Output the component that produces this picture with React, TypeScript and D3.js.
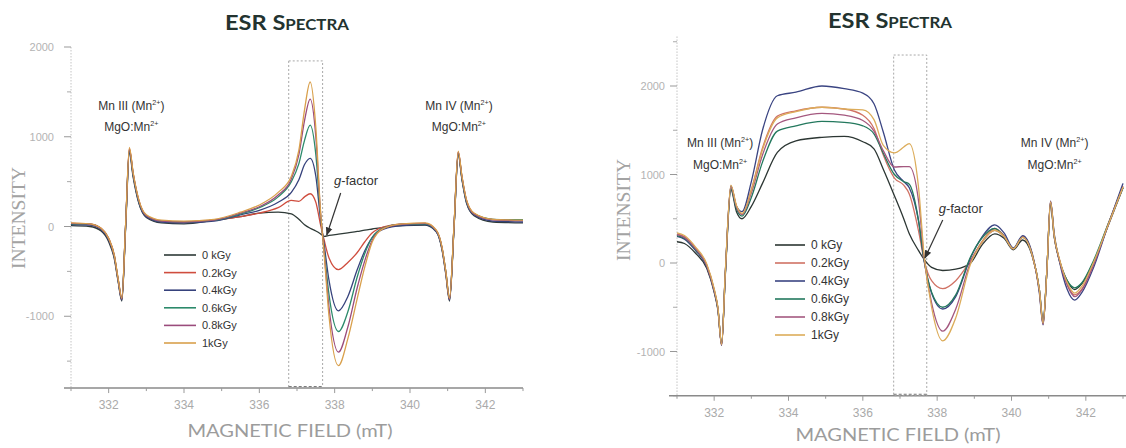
import React from "react";
import * as d3 from "d3";

// ---- shared labels ----
const doses = ["0 kGy", "0.2kGy", "0.4kGy", "0.6kGy", "0.8kGy", "1kGy"];
const xTicks = [331, 332, 333, 334, 335, 336, 337, 338, 339, 340, 341, 342, 343];

// ---- left panel (magnetic field in mT, intensity) ----
const fieldL = [331.0, 331.5, 331.8, 332.0, 332.15, 332.25, 332.35, 332.45, 332.55, 332.65, 332.8, 333.0, 333.4, 334.0, 334.8,
  335.5, 336.0, 336.5, 336.85, 337.05, 337.2, 337.35, 337.5, 337.62, 337.72, 337.85, 338.1, 338.35, 338.6, 338.8,
  339.0, 339.3, 339.8, 340.4, 340.7, 340.85, 340.95, 341.05, 341.17, 341.28, 341.38, 341.5, 341.7, 342.2, 343.0];

const left0 = [10, 0, -50, -170, -360, -610, -830, -20, 820, 550, 260, 100, 40, 30, 70,
  110, 150, 160, 140, 80, 20, -20, -50, -80, -110, -100, -85, -70, -55, -40,
  -28, -10, 10, 15, -60, -260, -530, -830, -10, 800, 520, 260, 120, 50, 40];
const left02 = [35, 30, -20, -130, -320, -580, -790, 20, 870, 590, 290, 120, 60, 50, 70,
  110, 150, 210, 290, 280, 330, 365, 270, 30, -150, -350, -480, -400, -290, -170,
  -70, -5, 30, 35, -45, -235, -500, -800, 20, 830, 550, 290, 145, 80, 70];
const left04 = [20, 15, -35, -150, -340, -600, -820, 0, 840, 570, 270, 110, 50, 40, 60,
  130, 180, 270, 380, 520, 690, 760, 560, 100, -200, -600, -940, -780, -480, -270,
  -120, -30, 10, 20, -60, -250, -520, -820, 0, 810, 530, 270, 130, 60, 50];
const left06 = [30, 25, -25, -140, -330, -590, -800, 10, 850, 580, 280, 120, 60, 50, 70,
  140, 210, 330, 500, 700, 960, 1130, 800, 150, -250, -760, -1170, -950, -560, -300,
  -120, -15, 25, 30, -50, -240, -500, -800, 10, 820, 540, 280, 140, 80, 75];
const left08 = [35, 25, -25, -140, -330, -590, -810, 10, 860, 590, 290, 120, 60, 50, 70,
  150, 220, 350, 530, 800, 1180, 1420, 1000, 180, -280, -900, -1400, -1120, -680, -380,
  -150, -20, 25, 35, -50, -240, -510, -810, 10, 830, 550, 290, 140, 75, 65];
const left1 = [40, 30, -20, -130, -320, -580, -800, 20, 880, 600, 300, 130, 70, 60, 80,
  160, 240, 380, 560, 850, 1300, 1610, 1100, 200, -300, -1000, -1550, -1250, -800, -450,
  -170, -20, 30, 40, -40, -230, -500, -800, 20, 840, 560, 300, 150, 80, 70];

const colorsL = ["#2e3a37", "#cf4d3e", "#36427c", "#2c8a6b", "#9a4c7c", "#d9a04c"];
const yTicksL = [-1000, 0, 1000, 2000];
const yMinorL = [-1500, -500, 500, 1500];

// ---- right panel ----
const fieldR = [331.0, 331.2, 331.5, 331.8, 332.0, 332.1, 332.2, 332.3, 332.45, 332.6, 332.75, 333.0, 333.3, 333.7, 334.2,
  334.9, 335.5, 336.0, 336.3, 336.55, 336.85, 337.1, 337.25, 337.5, 337.65, 337.85, 338.15, 338.5, 338.9, 339.2,
  339.55, 339.8, 340.05, 340.3, 340.55, 340.75, 340.85, 340.95, 341.05, 341.15, 341.3, 341.5, 341.7, 341.9, 342.2,
  342.6, 343.0];

const right0 = [240, 220, 110, -60, -330, -530, -920, -140, 830, 580, 500, 640, 900, 1250, 1380,
  1420, 1430, 1370, 1290, 1060, 760, 500, 330, 140, 40, -50, -85, -70, 0, 200,
  330, 280, 150, 260, 90, -300, -650, -100, 660, 290, 20, -200, -300, -230, 0,
  420, 850];
const right02 = [330, 300, 170, -20, -300, -510, -930, -110, 870, 640, 550, 830, 1300, 1660, 1720,
  1760, 1740, 1670, 1520, 1220, 960, 880, 780, 360, 30, -200, -290, -200, 30, 240,
  390, 310, 160, 300, 110, -320, -690, -100, 700, 310, 20, -240, -360, -290, -20,
  440, 870];
const right04 = [300, 270, 140, -40, -320, -520, -930, -120, 870, 640, 580, 920, 1500, 1890, 1930,
  2000, 1970, 1920, 1800, 1480, 1050, 920, 850, 470, 20, -340, -520, -380, 60, 290,
  430, 340, 170, 310, 120, -340, -700, -100, 700, 330, 0, -300, -420, -330, -60,
  430, 900];
const right06 = [310, 280, 150, -30, -310, -510, -910, -120, 840, 610, 530, 740, 1140, 1490, 1550,
  1600, 1590, 1550, 1460, 1240, 1000, 920, 890, 480, 30, -330, -500, -360, 70, 280,
  390, 300, 160, 290, 100, -300, -670, -100, 680, 300, 10, -200, -280, -220, 20,
  440, 850];
const right08 = [320, 290, 160, -30, -310, -510, -920, -110, 860, 630, 550, 790, 1220, 1570, 1640,
  1690, 1670, 1610, 1490, 1270, 1085, 1090, 1090, 700, 50, -450, -770, -520, 10, 230,
  370, 300, 160, 290, 100, -310, -690, -100, 690, 300, 10, -250, -380, -300, -30,
  430, 860];
const right1 = [340, 310, 180, -10, -290, -500, -920, -100, 880, 650, 560, 820, 1280, 1640, 1710,
  1760, 1740, 1730, 1620, 1330, 1245, 1310, 1350, 850, 80, -500, -880, -620, -10, 230,
  370, 300, 160, 290, 100, -300, -680, -100, 690, 310, 30, -220, -340, -260, 0,
  430, 860];

const colorsR = ["#2c3633", "#d07264", "#3a4482", "#23785d", "#a4587f", "#dcac5a"];
const yTicksR = [-1000, 0, 1000, 2000];
const yMinorR = [-1500, -500, 500, 1500, 2500];

type Panel = {
  field: number[];
  series: number[][];
  colors: string[];
  xRange: [number, number];
  yDomain: [number, number];
  yRange: [number, number];
  yTop: number;
  yBottom: number;
  yTicks: number[];
  yMinor: number[];
  labelGap: number;
  axisStart: number;
  axisEnd: number;
  titleX: number;
  titleY: number;
  xTitleX: number;
  xTitleY: number;
  yTitleX: number;
  yTitleY: number;
  box: [number, number, number];
  mn3: [number, number, number];
  mn4: [number, number, number];
  annoSize: number;
  g: { tip: [number, number]; from: [number, number]; text: [number, number] };
  legend: { x0: number; x1: number; y0: number; dy: number; size: number };
};

const panels: Panel[] = [
  {
    field: fieldL,
    series: [left0, left02, left04, left06, left08, left1],
    colors: colorsL,
    xRange: [71, 523],
    yDomain: [0, 2000],
    yRange: [226.5, 47],
    yTop: 2000,
    yBottom: -1800,
    yTicks: yTicksL,
    yMinor: yMinorL,
    labelGap: 17,
    axisStart: 64,
    axisEnd: 523,
    titleX: 287,
    titleY: 30,
    xTitleX: 290,
    xTitleY: 437,
    yTitleX: 25,
    yTitleY: 218,
    box: [336.78, 337.68, 1845],
    mn3: [332.6, 1298, 1064],
    mn4: [341.3, 1298, 1064],
    annoSize: 12,
    g: { tip: [337.79, -95], from: [338.16, 373], text: [337.98, 463] },
    legend: { x0: 164, x1: 196, y0: 255, dy: 17.6, size: 11 },
  },
  {
    field: fieldR,
    series: [right0, right02, right04, right06, right08, right1],
    colors: colorsR,
    xRange: [677, 1123],
    yDomain: [0, 2000],
    yRange: [263, 86],
    yTop: 2560,
    yBottom: -1500,
    yTicks: yTicksR,
    yMinor: yMinorR,
    labelGap: 12,
    axisStart: 669,
    axisEnd: 1126,
    titleX: 890,
    titleY: 28,
    xTitleX: 898,
    xTitleY: 441,
    yTitleX: 630,
    yTitleY: 210,
    box: [336.83, 337.72, 2350],
    mn3: [332.16, 1310, 1062],
    mn4: [341.16, 1310, 1062],
    annoSize: 12,
    g: { tip: [337.67, 56], from: [338.15, 486], text: [338.04, 565] },
    legend: { x0: 775, x1: 805, y0: 245, dy: 18, size: 12 },
  },
];

const tickFont = "'Liberation Sans', Arial, sans-serif";

function Mn({ x, y, label, size }: { x: number; y: number; label: string; size: number }) {
  return (
    <text x={x} y={y} textAnchor="middle" fontFamily={tickFont} fontSize={size} fill="#333">
      {label}
      <tspan fontSize={size * 0.6} dy={-size * 0.4}>2+</tspan>
      <tspan dy={size * 0.4}>{label.startsWith("Mn") ? ")" : ""}</tspan>
    </text>
  );
}

function ChartPanel({ p, idx }: { p: Panel; idx: number }) {
  const x = d3.scaleLinear().domain([331, 343]).range(p.xRange);
  const y = d3.scaleLinear().domain(p.yDomain).range(p.yRange);
  const line = d3
    .line<number>()
    .x((_, i) => x(p.field[i]))
    .y((d) => y(d))
    .curve(d3.curveMonotoneX);
  const ax = x(331);
  const axisY = y(p.yBottom);
  const markerId = `arrow${idx}`;
  return (
    <g>
      <defs>
        <marker id={markerId} viewBox="0 0 10 10" refX="9" refY="5" markerWidth="7" markerHeight="7" orient="auto">
          <path d="M0,1 L10,5 L0,9 z" fill="#333" />
        </marker>
      </defs>
      {/* title */}
      <text x={p.titleX} y={p.titleY} textAnchor="middle" fontFamily="Lato, 'Open Sans', sans-serif" fontWeight="bold"
        fontSize={21} fill="#23332f" style={{ fontVariant: "small-caps" }} textLength={124} lengthAdjust="spacingAndGlyphs">
        ESR Spectra
      </text>
      {/* y axis */}
      <line x1={ax} x2={ax} y1={y(p.yTop)} y2={axisY} stroke="#c4c4c4" strokeDasharray="1.5,1.5" />
      {p.yTicks.map((t) => (
        <g key={t}>
          <line x1={ax - 7} x2={ax} y1={y(t)} y2={y(t)} stroke="#999" />
          <text x={ax - p.labelGap} y={y(t) + 4} textAnchor="end" fontFamily={tickFont} fontSize={11} fill="#b3b3b3">
            {t}
          </text>
        </g>
      ))}
      {p.yMinor.map((t) => (
        <line key={t} x1={ax - 4} x2={ax} y1={y(t)} y2={y(t)} stroke="#aaa" />
      ))}
      {/* x axis */}
      <line x1={p.axisStart} x2={p.axisEnd} y1={axisY} y2={axisY} stroke="#8a8a8a" strokeWidth={1.5} />
      {xTicks.map((t) => (
        <g key={t}>
          <line x1={x(t)} x2={x(t)} y1={axisY} y2={axisY + (t % 2 === 0 ? 5 : 3)} stroke="#999" />
          {t % 2 === 0 && (
            <text x={x(t)} y={axisY + 21} textAnchor="middle" fontFamily={tickFont} fontSize={12} fill="#aaa">
              {t}
            </text>
          )}
        </g>
      ))}
      <text x={p.xTitleX} y={p.xTitleY} textAnchor="middle" fontFamily="Lato, sans-serif" fontSize={17} fill="#9c9c9c"
        textLength={205} lengthAdjust="spacingAndGlyphs">
        MAGNETIC FIELD (mT)
      </text>
      <text transform={`translate(${p.yTitleX},${p.yTitleY}) rotate(-90)`} textAnchor="middle"
        fontFamily="'Liberation Serif', serif" fontSize={18} fill="#a3a3a3" textLength={102} lengthAdjust="spacingAndGlyphs">
        INTENSITY
      </text>
      {/* dotted box */}
      <rect x={x(p.box[0])} y={y(p.box[2])} width={x(p.box[1]) - x(p.box[0])} height={axisY - y(p.box[2])}
        fill="none" stroke="#a8a8a8" strokeDasharray="2,2" />
      <line x1={x(p.box[0])} x2={x(p.box[1])} y1={axisY - 1.5} y2={axisY - 1.5} stroke="#777" strokeDasharray="3,2" />
      {/* spectra */}
      {p.series.map((s, i) => (
        <path key={i} d={line(s) || ""} fill="none" stroke={p.colors[i]} strokeWidth={1.3} />
      ))}
      {/* annotations */}
      <Mn x={x(p.mn3[0])} y={y(p.mn3[1])} label="Mn III (Mn" size={p.annoSize} />
      <Mn x={x(p.mn3[0])} y={y(p.mn3[2])} label="MgO:Mn" size={p.annoSize} />
      <Mn x={x(p.mn4[0])} y={y(p.mn4[1])} label="Mn IV (Mn" size={p.annoSize} />
      <Mn x={x(p.mn4[0])} y={y(p.mn4[2])} label="MgO:Mn" size={p.annoSize} />
      <text x={x(p.g.text[0])} y={y(p.g.text[1])} fontFamily={tickFont} fontSize={13} fill="#333">
        <tspan fontStyle="italic">g</tspan>-factor
      </text>
      <line x1={x(p.g.from[0])} y1={y(p.g.from[1])} x2={x(p.g.tip[0])} y2={y(p.g.tip[1])} stroke="#333"
        strokeWidth={1.2} markerEnd={`url(#${markerId})`} />
      {/* legend */}
      {doses.map((d, i) => {
        const ly = p.legend.y0 + i * p.legend.dy;
        return (
          <g key={d}>
            <line x1={p.legend.x0} x2={p.legend.x1} y1={ly} y2={ly} stroke={p.colors[i]} strokeWidth={1.6} />
            <text x={p.legend.x1 + 6} y={ly + 4} fontFamily={tickFont} fontSize={p.legend.size} fill="#333">
              {d}
            </text>
          </g>
        );
      })}
    </g>
  );
}

export default function App() {
  return (
    <div style={{ position: "fixed", left: 0, top: 0 }}>
      <svg width={1126} height={448} style={{ display: "block", background: "#fff" }}>
        {panels.map((p, i) => (
          <ChartPanel key={i} p={p} idx={i} />
        ))}
      </svg>
    </div>
  );
}
